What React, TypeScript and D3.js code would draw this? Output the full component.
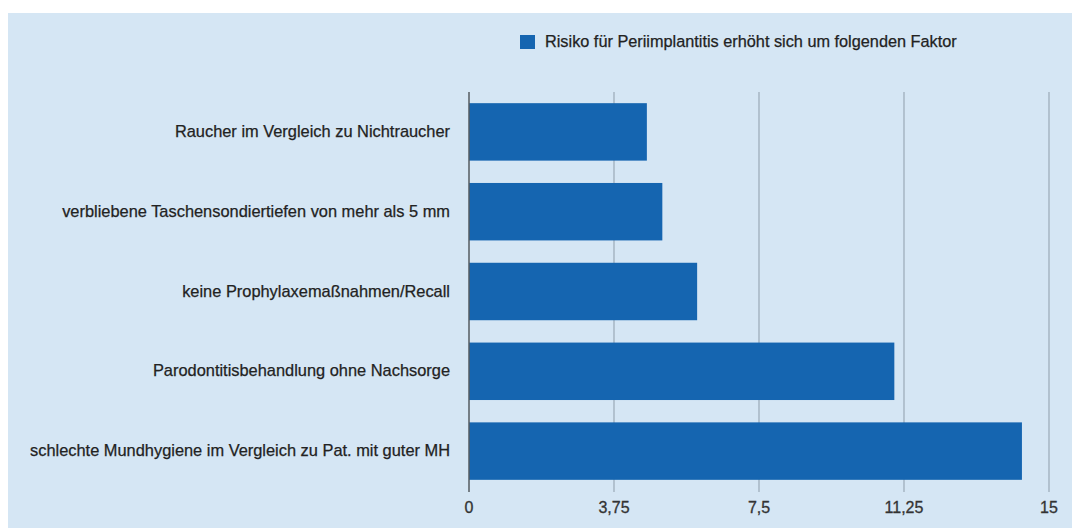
import React from "react";
import * as d3 from "d3";

const categories: string[] = [
  "Raucher im Vergleich zu Nichtraucher",
  "verbliebene Taschensondiertiefen von mehr als 5 mm",
  "keine Prophylaxemaßnahmen/Recall",
  "Parodontitisbehandlung ohne Nachsorge",
  "schlechte Mundhygiene im Vergleich zu Pat. mit guter MH",
];
const values: number[] = [4.6, 5.0, 5.9, 11.0, 14.3];
const tickValues: number[] = [0, 3.75, 7.5, 11.25, 15];
const tickLabels: string[] = ["0", "3,75", "7,5", "11,25", "15"];
const seriesName = "Risiko für Periimplantitis erhöht sich um folgenden Faktor";

const W = 1072;
const H = 528;
const FONT = "'Liberation Sans', Arial, Helvetica, sans-serif";
const BAR = "#1565b0";

export default function App() {
  const x = d3.scaleLinear().domain([0, 15]).range([469, 1049]);
  const y = d3.scaleBand<string>().domain(categories).range([92, 491]).paddingInner(0.28).paddingOuter(0.14);

  return (
    <svg width={W} height={H} style={{ position: "absolute", left: 0, top: 0, display: "block" }}>
      <rect x={0} y={0} width={W} height={H} fill="#ffffff" />
      <rect x={8} y={13} width={W - 8} height={H - 13} fill="#d5e6f4" />
      {/* legend */}
      <rect x={520} y={35} width={15} height={14} fill={BAR} />
      <text x={545} y={47} fontFamily={FONT} fontSize={16.3} fill="#222" stroke="#222" strokeWidth={0.25}>{seriesName}</text>
      {/* gridlines */}
      {tickValues.slice(1).map((t) => (
        <line key={t} x1={x(t)} x2={x(t)} y1={92} y2={492} stroke="#9aa9b6" strokeWidth={1.2} />
      ))}
      {/* bars */}
      {categories.map((c, i) => (
        <rect key={c} x={x(0)} y={y(c)} width={x(values[i]) - x(0)} height={y.bandwidth()} fill={BAR} />
      ))}
      {/* axis line */}
      <line x1={x(0)} x2={x(0)} y1={92} y2={492} stroke="#555b60" strokeWidth={1.5} />
      {/* category labels */}
      {categories.map((c) => (
        <text key={c} x={450} y={(y(c) as number) + y.bandwidth() / 2 + 5} textAnchor="end" fontFamily={FONT} fontSize={16.4} fill="#222" stroke="#222" strokeWidth={0.25}>{c}</text>
      ))}
      {/* tick labels */}
      {tickValues.map((t, i) => (
        <text key={t} x={x(t)} y={513} textAnchor="middle" fontFamily={FONT} fontSize={16} fill="#333" stroke="#333" strokeWidth={0.3}>{tickLabels[i]}</text>
      ))}
    </svg>
  );
}
